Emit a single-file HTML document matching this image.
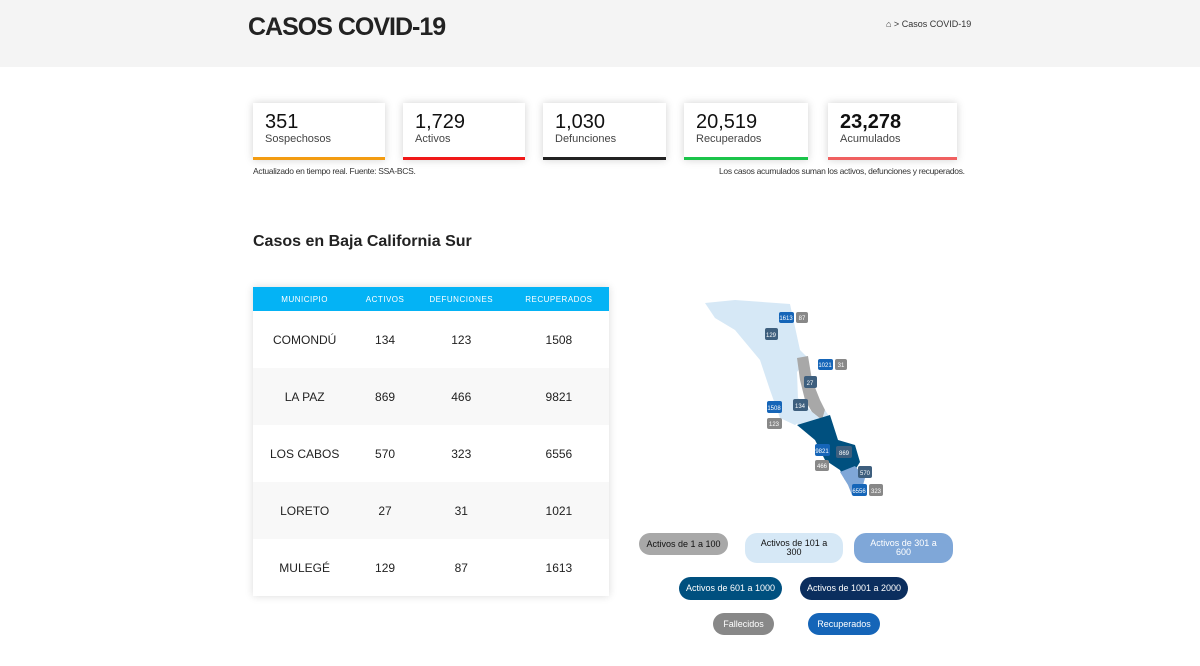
<!DOCTYPE html>
<html><head><meta charset="utf-8"><style>
body{margin:0;width:1200px;height:666px;background:#fff;font-family:"Liberation Sans",sans-serif;position:relative;overflow:hidden}
.hdr{position:absolute;left:0;top:0;width:1200px;height:67px;background:#f4f4f4}
.title{position:absolute;left:248px;top:13px;font-size:25px;font-weight:bold;color:#222;letter-spacing:-1px}
.crumb{position:absolute;left:886px;top:19px;font-size:9px;color:#333}
.card{position:absolute;top:103px;height:54px;background:#fff;box-shadow:0 0 8px rgba(0,0,0,.18);border-bottom:3px solid}
.card b{position:absolute;left:12px;top:8px;font-size:20px;font-weight:normal;color:#111}
.card span{position:absolute;left:12px;top:30px;font-size:11px;color:#444}
.note{position:absolute;top:166px;font-size:8.5px;color:#333;letter-spacing:-0.3px}
h2{position:absolute;left:253px;top:233px;margin:0;font-size:16px;color:#222}
table{position:absolute;left:253px;top:287px;width:356px;border-collapse:collapse;box-shadow:0 0 8px rgba(0,0,0,.15);font-size:12px;color:#222}
th{background:#04b3f5;color:#fff;font-size:8px;font-weight:normal;height:24px;padding:0;letter-spacing:.5px}
td{height:57px;padding:0;text-align:center}
tr:nth-child(odd) td{background:#f8f8f8}
.pill{position:absolute;border-radius:12px;font-size:9px;text-align:center;display:flex;align-items:center;justify-content:center;line-height:9px}
</style></head><body>
<div class="hdr"></div>
<div class="title">CASOS COVID-19</div>
<div class="crumb">⌂ &gt; Casos COVID-19</div>
<div class="card" style="left:253px;width:132px;border-color:#f39c12"><b>351</b><span>Sospechosos</span></div>
<div class="card" style="left:403px;width:122px;border-color:#f01818"><b>1,729</b><span>Activos</span></div>
<div class="card" style="left:543px;width:123px;border-color:#222"><b>1,030</b><span>Defunciones</span></div>
<div class="card" style="left:684px;width:124px;border-color:#1bc44a"><b>20,519</b><span>Recuperados</span></div>
<div class="card" style="left:828px;width:129px;border-color:#f06060"><b style="font-weight:bold">23,278</b><span>Acumulados</span></div>
<div class="note" style="left:253px">Actualizado en tiempo real. Fuente: SSA-BCS.</div>
<div class="note" style="left:719px">Los casos acumulados suman los activos, defunciones y recuperados.</div>
<h2>Casos en Baja California Sur</h2>
<table>
<tr><th>MUNICIPIO</th><th>ACTIVOS</th><th>DEFUNCIONES</th><th>RECUPERADOS</th></tr>
<tr><td>COMONDÚ</td><td>134</td><td>123</td><td>1508</td></tr>
<tr><td>LA PAZ</td><td>869</td><td>466</td><td>9821</td></tr>
<tr><td>LOS CABOS</td><td>570</td><td>323</td><td>6556</td></tr>
<tr><td>LORETO</td><td>27</td><td>31</td><td>1021</td></tr>
<tr><td>MULEGÉ</td><td>129</td><td>87</td><td>1613</td></tr>
</table>
<svg style="position:absolute;left:0;top:0" width="1200" height="666">
<polygon fill="#d6e8f6" points="705,303 735,300 790,304 800,350 808,358 797,372 798,400 802,420 795,425 780,418 770,390 760,360 735,330 715,318"/>
<polygon fill="#a8a8a8" points="797,358 808,356 812,380 820,400 825,410 822,420 812,412 805,400 800,380"/>
<polygon fill="#d6e8f6" points="795,395 812,412 822,420 825,410 830,418 800,425 790,420"/>
<polygon fill="#00507f" points="797,425 830,415 838,440 855,445 860,462 850,478 845,480 840,470 825,460 815,440"/>
<polygon fill="#7fa7d8" points="840,472 855,466 865,478 860,496 852,495 848,485"/>
<g font-size="6" fill="#fff" text-anchor="middle">
<rect x="779" y="312" width="15" height="11" rx="2" fill="#1565b8"/><text x="786" y="320">1613</text>
<rect x="796" y="312" width="12" height="11" rx="2" fill="#888"/><text x="802" y="320">87</text>
<rect x="765" y="328" width="13" height="12" rx="2" fill="#3e5f7e"/><text x="771" y="337">129</text>
<rect x="818" y="359" width="15" height="11" rx="2" fill="#1565b8"/><text x="825" y="367">1021</text>
<rect x="835" y="359" width="12" height="11" rx="2" fill="#888"/><text x="841" y="367">31</text>
<rect x="804" y="376" width="13" height="12" rx="2" fill="#3e5f7e"/><text x="810" y="385">27</text>
<rect x="767" y="401" width="15" height="12" rx="2" fill="#1565b8"/><text x="774" y="410">1508</text>
<rect x="793" y="399" width="15" height="12" rx="2" fill="#3e5f7e"/><text x="800" y="408">134</text>
<rect x="767" y="418" width="15" height="11" rx="2" fill="#888"/><text x="774" y="426">123</text>
<rect x="815" y="444" width="15" height="12" rx="2" fill="#1565b8"/><text x="822" y="453">9821</text>
<rect x="836" y="446" width="16" height="12" rx="2" fill="#3e5f7e"/><text x="844" y="455">869</text>
<rect x="815" y="460" width="14" height="11" rx="2" fill="#888"/><text x="822" y="468">466</text>
<rect x="858" y="466" width="14" height="12" rx="2" fill="#3e5f7e"/><text x="865" y="475">570</text>
<rect x="852" y="484" width="15" height="12" rx="2" fill="#1565b8"/><text x="859" y="493">6556</text>
<rect x="869" y="484" width="14" height="12" rx="2" fill="#888"/><text x="876" y="493">323</text>
</g></svg>
<div class="pill" style="left:639px;top:533px;width:89px;height:22px;background:#a8a8a8;color:#111">Activos de 1 a 100</div>
<div class="pill" style="left:745px;top:533px;width:98px;height:30px;background:#d6e8f6;color:#111">Activos de 101 a<br>300</div>
<div class="pill" style="left:854px;top:533px;width:99px;height:30px;background:#7fa7d8;color:#fff">Activos de 301 a<br>600</div>
<div class="pill" style="left:679px;top:577px;width:103px;height:23px;background:#00507f;color:#fff">Activos de 601 a 1000</div>
<div class="pill" style="left:800px;top:577px;width:108px;height:23px;background:#0b2e5e;color:#fff">Activos de 1001 a 2000</div>
<div class="pill" style="left:713px;top:613px;width:61px;height:22px;background:#888;color:#fff">Fallecidos</div>
<div class="pill" style="left:808px;top:613px;width:72px;height:22px;background:#1565b8;color:#fff">Recuperados</div>
</body></html>
